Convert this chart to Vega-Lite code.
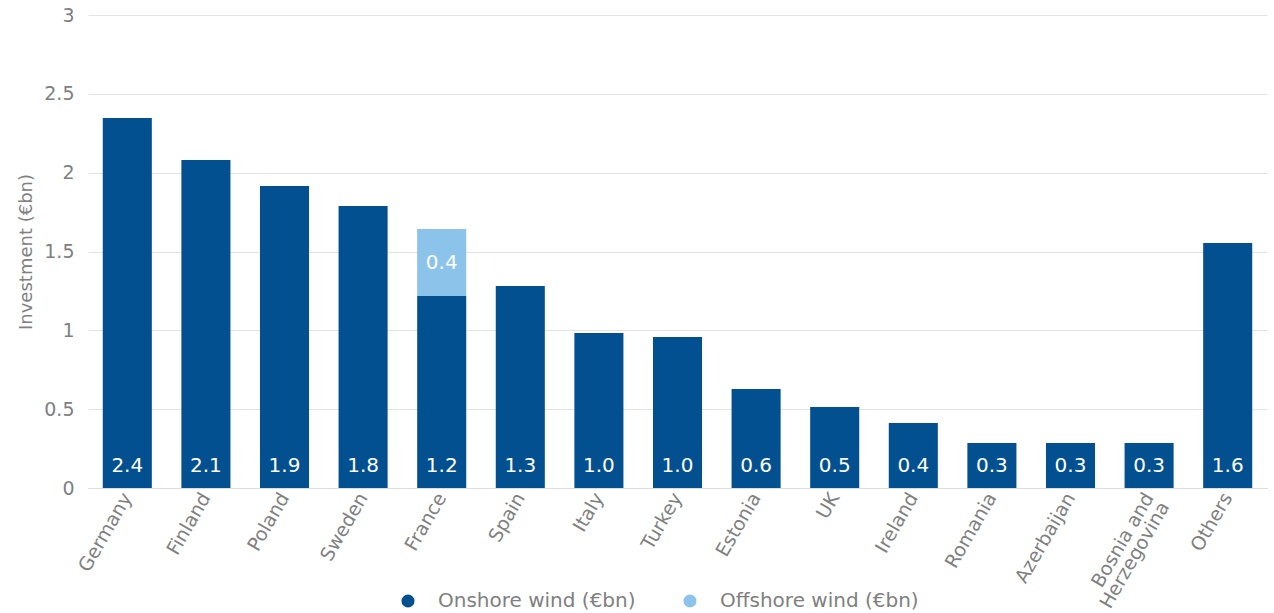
{
  "$schema": "https://vega.github.io/schema/vega-lite/v6.json",
  "width": 1179,
  "height": 473,
  "autosize": {"type": "none"},
  "padding": {"left": 88, "top": 15, "right": 7, "bottom": 125},
  "background": "white",
  "config": {
    "view": {"stroke": null},
    "font": "DejaVu Sans",
    "axis": {"labelColor": "#808080", "titleColor": "#808080", "labelFont": "DejaVu Sans", "titleFont": "DejaVu Sans"}
  },
  "data": {
    "values": [
      {"country": "Germany", "onshore": 2.346, "offshore": 0, "label": "2.4"},
      {"country": "Finland", "onshore": 2.08, "offshore": 0, "label": "2.1"},
      {"country": "Poland", "onshore": 1.915, "offshore": 0, "label": "1.9"},
      {"country": "Sweden", "onshore": 1.788, "offshore": 0, "label": "1.8"},
      {"country": "France", "onshore": 1.217, "offshore": 0.425, "label": "1.2"},
      {"country": "Spain", "onshore": 1.281, "offshore": 0, "label": "1.3"},
      {"country": "Italy", "onshore": 0.983, "offshore": 0, "label": "1.0"},
      {"country": "Turkey", "onshore": 0.957, "offshore": 0, "label": "1.0"},
      {"country": "Estonia", "onshore": 0.628, "offshore": 0, "label": "0.6"},
      {"country": "UK", "onshore": 0.514, "offshore": 0, "label": "0.5"},
      {"country": "Ireland", "onshore": 0.412, "offshore": 0, "label": "0.4"},
      {"country": "Romania", "onshore": 0.285, "offshore": 0, "label": "0.3"},
      {"country": "Azerbaijan", "onshore": 0.285, "offshore": 0, "label": "0.3"},
      {"country": "Bosnia and Herzegovina", "onshore": 0.285, "offshore": 0, "label": "0.3"},
      {"country": "Others", "onshore": 1.554, "offshore": 0, "label": "1.6"}
    ]
  },
  "encoding": {
    "x": {
      "field": "country",
      "type": "nominal",
      "sort": null,
      "scale": {"paddingInner": 0.376, "paddingOuter": 0.188},
      "axis": {
        "title": null,
        "labelAngle": -60,
        "labelFontSize": 19,
        "labelPadding": 6,
        "ticks": false,
        "domain": true,
        "domainColor": "#dddddd",
        "labelExpr": "datum.value == 'Bosnia and Herzegovina' ? ['Bosnia and', 'Herzegovina'] : datum.value",
        "labelLineHeight": 18
      }
    }
  },
  "layer": [
    {
      "transform": [{"fold": ["onshore", "offshore"], "as": ["type", "value"]}],
      "mark": {"type": "bar"},
      "encoding": {
        "y": {
          "field": "value",
          "type": "quantitative",
          "stack": "zero",
          "scale": {"domain": [0, 3]},
          "axis": {
            "title": "Investment (€bn)",
            "titleFontSize": 18,
            "titleFontWeight": "normal",
            "titlePadding": 8,
            "values": [0, 0.5, 1, 1.5, 2, 2.5, 3],
            "labelFontSize": 19,
            "labelPadding": 14,
            "ticks": false,
            "domain": false,
            "gridColor": "#e3e3e3",
            "labelExpr": "datum.value"
          }
        },
        "color": {
          "field": "type",
          "type": "nominal",
          "scale": {"domain": ["onshore", "offshore"], "range": ["#02508f", "#8cc3ea"]},
          "legend": {
            "title": null,
            "orient": "none",
            "direction": "horizontal",
            "legendX": 310,
            "legendY": 576,
            "symbolType": "circle",
            "symbolSize": 170,
            "symbolOpacity": 1,
            "labelFontSize": 20,
            "labelColor": "#808080",
            "labelFont": "DejaVu Sans",
            "labelLimit": 400,
            "labelOffset": 20,
            "columnPadding": 44,
            "labelExpr": "datum.label == 'onshore' ? 'Onshore wind (€bn)' : 'Offshore wind (€bn)'"
          }
        },
        "order": {"field": "type", "sort": "descending"}
      }
    },
    {
      "mark": {"type": "text", "color": "white", "fontSize": 20, "baseline": "middle", "dy": -22},
      "encoding": {
        "y": {"datum": 0, "type": "quantitative"},
        "text": {"field": "label"}
      }
    },
    {
      "transform": [{"filter": "datum.offshore > 0"}],
      "mark": {"type": "text", "color": "white", "fontSize": 20, "baseline": "middle", "dy": -33},
      "encoding": {
        "y": {"field": "onshore", "type": "quantitative"},
        "text": {"field": "offshore", "format": ".1f"}
      }
    }
  ]
}
